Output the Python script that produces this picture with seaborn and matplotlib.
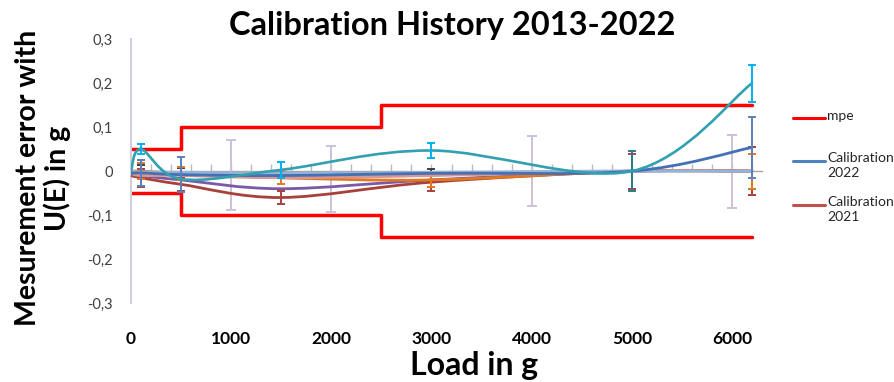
import numpy as np
import matplotlib
matplotlib.use("Agg")
import matplotlib.pyplot as plt
from matplotlib.path import Path
from matplotlib.patches import PathPatch
from matplotlib.lines import Line2D
import seaborn as sns

# ---------------- data ----------------
loads = [0, 100, 500, 1500, 3000, 5000, 6200]
loads_alt = [0, 1000, 2000, 4000, 6000]

mpe_x = [0, 500, 2500, 6200]
mpe_upper = [0.05, 0.10, 0.15, 0.15]
mpe_lower = [-0.05, -0.10, -0.15, -0.15]

err_2022 = [-0.005, -0.004, -0.008, -0.010, -0.005, 0.0, 0.054]
u_2022 = [0.0, 0.030, 0.040, 0.0, 0.0, 0.0, 0.070]
err_2021 = [-0.010, -0.015, -0.030, -0.060, -0.025, 0.0, 0.0]
u_2021 = [0.0, 0.020, 0.015, 0.015, 0.020, 0.040, 0.055]
err_2020 = [-0.005, -0.010, -0.020, -0.040, -0.020, 0.0, 0.0]
err_2019 = [0.0, 0.0, -0.005, -0.015, -0.020, 0.0, 0.0]
u_2019 = [0.0, 0.018, 0.015, 0.015, 0.017, 0.0, 0.040]
err_2018 = [-0.005, -0.010, -0.010, -0.015, -0.010, 0.0, 0.0]
err_2017 = [0.0, -0.002, -0.003, -0.005, -0.003, 0.0, 0.0]
u_2017 = [0.0, 0.0, 0.0, 0.0, 0.0, 0.046, 0.0]
err_2016 = [0.0, 0.0, -0.005, -0.010, -0.010, 0.0, 0.0]
u_2016 = [0.0, 0.015, 0.012, 0.0, 0.015, 0.0, 0.0]
err_2015 = [0.0, 0.050, -0.018, 0.003, 0.047, 0.0, 0.200]
u_2015 = [0.0, 0.012, 0.0, 0.018, 0.018, 0.0, 0.042]
err_2014 = [0.0, -0.009, -0.018, 0.0, 0.0]
u_2014 = [0.0, 0.080, 0.076, 0.080, 0.083]

x_ticks = [0, 1000, 2000, 3000, 4000, 5000, 6000]
x_tick_labels = ["0", "1000", "2000", "3000", "4000", "5000", "6000"]
y_ticks = [-0.3, -0.2, -0.1, 0.0, 0.1, 0.2, 0.3]
y_tick_labels = ["-0,3", "-0,2", "-0,1", "0", "0,1", "0,2", "0,3"]

legend_labels = ["mpe", "Calibration\n2022", "Calibration\n2021"]

# ---------------- style ----------------
sns.set_theme(style="white")
plt.rcParams['font.family'] = ['Lato', 'DejaVu Sans']

W, H = 895, 382
fig = plt.figure(figsize=(W / 100, H / 100), dpi=100)
ax = fig.add_axes([131 / W, 1 - 303 / H, (762 - 131) / W, (303 - 39.3) / H])
ax.set_xlim(0, 6300)
ax.set_ylim(-0.3, 0.3)


def smooth_path(x, y):
    x = np.asarray(x, float)
    y = np.asarray(y, float)
    n = len(x)
    verts = [(x[0], y[0])]
    codes = [Path.MOVETO]
    for i in range(n - 1):
        a = max(i - 1, 0)
        b = min(i + 2, n - 1)
        c1 = (x[i] + (x[i + 1] - x[a]) / 6, y[i] + (y[i + 1] - y[a]) / 6)
        c2 = (x[i + 1] - (x[b] - x[i]) / 6, y[i + 1] - (y[b] - y[i]) / 6)
        verts += [c1, c2, (x[i + 1], y[i + 1])]
        codes += [Path.CURVE4] * 3
    return Path(verts, codes)


def draw_series(x, y, color, lw=1.7, u=None, ecolor=None, z=3, capsize=2.6):
    ax.add_patch(PathPatch(smooth_path(x, y), facecolor='none', edgecolor=color,
                           lw=lw, zorder=z, capstyle='round', joinstyle='round'))
    if u is not None:
        xa, ya, ua = np.asarray(x, float), np.asarray(y, float), np.asarray(u, float)
        m = ua > 0
        ax.errorbar(xa[m], ya[m], yerr=ua[m], fmt='none', ecolor=ecolor or color,
                    elinewidth=1.4, capsize=capsize, capthick=1.4, zorder=z + 0.1)


# mpe limits (seaborn)
sns.lineplot(x=mpe_x, y=mpe_upper, ax=ax, color='#FF0000', lw=2.5,
             drawstyle='steps-post', zorder=2)
sns.lineplot(x=mpe_x, y=mpe_lower, ax=ax, color='#FF0000', lw=2.5,
             drawstyle='steps-post', zorder=2)

draw_series(loads_alt, err_2014, '#D5CCE3', lw=1.3, u=u_2014, ecolor='#CCC1DA', z=2.5, capsize=3.5)
draw_series(loads, err_2016, '#9BBB59', lw=1.2, u=u_2016, ecolor='#404040', z=3)
draw_series(loads, err_2020, '#7A5AA6', lw=2.0, z=3.2)
draw_series(loads, err_2021, '#A8403C', lw=2.0, u=u_2021, ecolor='#A8403C', z=3.3)
draw_series(loads, err_2019, '#E3791F', lw=2.0, u=u_2019, ecolor='#E3791F', z=3.4)
draw_series(loads, err_2018, '#D99694', lw=2.0, z=3.5)
draw_series(loads, err_2017, '#95B3D7', lw=2.2, u=u_2017, ecolor='#2A7A8C', z=3.6)
draw_series(loads, err_2022, '#4470B5', lw=2.0, u=u_2022, ecolor='#5B7FC0', z=3.7)
draw_series(loads, err_2015, '#31A0B0', lw=1.9, u=u_2015, ecolor='#00B0F0', z=3.9)

# axes appearance
for s in ['top', 'right', 'bottom']:
    ax.spines[s].set_visible(False)
ax.spines['left'].set_color('#D0CCDC')
ax.spines['left'].set_linewidth(1.4)
ax.set_xlabel('')
ax.set_ylabel('')
ax.set_xticks(x_ticks)
ax.set_xticklabels(x_tick_labels, fontsize=12.5, fontweight='bold', color='black')
ax.tick_params(axis='x', length=0, pad=20)
ax.set_yticks(y_ticks)
ax.set_yticklabels(y_tick_labels, fontsize=10.5, color='#404040')
ax.tick_params(axis='y', length=0, pad=13)

# horizontal axis at zero with tick marks
sec = ax.secondary_xaxis(0.5)
sec.set_xticks(np.arange(0, 6300, 200))
sec.tick_params(axis='x', direction='out', length=5, width=1, color='#B8B8B8',
                labeltop=False, labelbottom=False)
for s in sec.spines.values():
    s.set_color('#A6A6A6')
    s.set_linewidth(1.0)

# titles
fig.text(452 / W, 1 - 25 / H, "Calibration History 2013-2022", ha='center', va='center',
         fontsize=23.5, fontweight='bold', color='black')
fig.text(474 / W, 1 - 366 / H, "Load in g", ha='center', va='center',
         fontsize=23, fontweight='bold', color='black')
fig.text(43 / W, 1 - 178 / H, "Mesurement error with\nU(E) in g", ha='center', va='center',
         rotation=90, fontsize=20.5, fontweight='bold', color='black', linespacing=1.15)

# legend (manual, handle aligned with first text line)
leg_colors = ['#FF0000', '#4F81BD', '#C0504D']
leg_y = [118, 161, 205]
for lab, col, yy in zip(legend_labels, leg_colors, leg_y):
    fig.add_artist(Line2D([793 / W, 825 / W], [1 - yy / H, 1 - yy / H], color=col,
                          lw=2.2, transform=fig.transFigure))
    fig.text(827 / W, 1 - (yy - 8.5) / H, lab, ha='left', va='top', fontsize=10,
             color='#262626', linespacing=1.25)

fig.savefig("out.png", dpi=100)
